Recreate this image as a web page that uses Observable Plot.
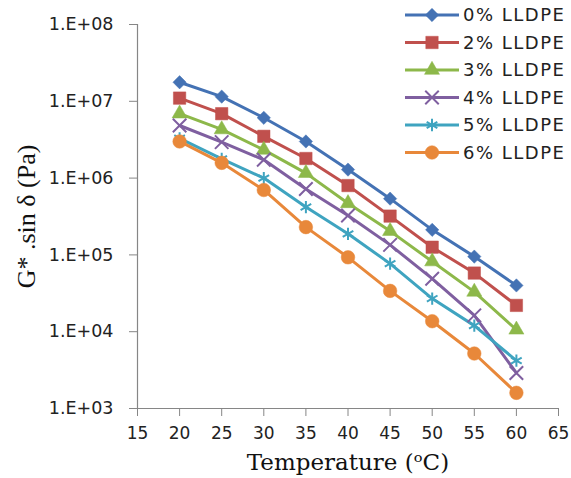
<!DOCTYPE html>
<html><head><meta charset="utf-8">
<script src="https://cdn.jsdelivr.net/npm/d3@7"></script>
<script src="https://cdn.jsdelivr.net/npm/@observablehq/plot@0.6"></script>
<style>
html,body{margin:0;padding:0;background:#fff;}
#wrap{position:relative;width:571px;height:478px;}
#legend{position:absolute;left:0;top:0;}
</style>
</head><body>
<div id="wrap"></div>
<script>
const temps = [20, 25, 30, 35, 40, 45, 50, 55, 60];
const seriesNames = ["0% LLDPE", "2% LLDPE", "3% LLDPE", "4% LLDPE", "5% LLDPE", "6% LLDPE"];
const s0 = [1.77e7, 1.15e7, 6.1e6, 3.0e6, 1.29e6, 5.4e5, 2.12e5, 9.5e4, 4.0e4];
const s2 = [1.1e7, 6.9e6, 3.5e6, 1.8e6, 8.0e5, 3.2e5, 1.26e5, 5.8e4, 2.2e4];
const s3 = [6.9e6, 4.3e6, 2.33e6, 1.16e6, 4.7e5, 2.04e5, 8.2e4, 3.3e4, 1.06e4];
const s4 = [4.84e6, 2.94e6, 1.73e6, 7.2e5, 3.26e5, 1.35e5, 4.9e4, 1.63e4, 2.9e3];
const s5 = [3.3e6, 1.78e6, 1.0e6, 4.2e5, 1.88e5, 7.7e4, 2.7e4, 1.2e4, 4.2e3];
const s6 = [3.0e6, 1.58e6, 7.0e5, 2.3e5, 9.3e4, 3.4e4, 1.37e4, 5.2e3, 1.6e3];
const xTicks = [15, 20, 25, 30, 35, 40, 45, 50, 55, 60, 65];
const yTicks = [1e3, 1e4, 1e5, 1e6, 1e7, 1e8];
const yTickLabels = ["1.E+03", "1.E+04", "1.E+05", "1.E+06", "1.E+07", "1.E+08"];
const xTitle = "Temperature (ᵒC)";
const yTitle = "G* .sin δ (Pa)";

const allValues = [s0, s2, s3, s4, s5, s6];
const colors = ["#4472B4", "#C0504D", "#8DB84A", "#7F5FA0", "#3FA4C0", "#E8883A"];
const symbols = ["diamond2", "square", "triangle", "times", "asterisk", "circle"];
const radii = [6, 7, 5.6, 6.2, 5.8, 6.8];
const filled = [true, true, true, false, false, true];

const data = seriesNames.map((name, k) => temps.map((t, i) => ({series: name, t, v: allValues[k][i]})));

const axisGray = "#868686";
const marks = [];
data.forEach((d, k) => {
  marks.push(Plot.line(d, {x: "t", y: "v", stroke: colors[k], strokeWidth: 3}));
});
data.forEach((d, k) => {
  marks.push(Plot.dot(d, {x: "t", y: "v", symbol: () => symbols[k], r: radii[k],
    fill: filled[k] ? colors[k] : "none", stroke: colors[k], strokeWidth: filled[k] ? 0.5 : 2}));
});

const chart = Plot.plot({
  width: 571, height: 478,
  marginLeft: 137, marginRight: 13, marginTop: 24, marginBottom: 70,
  style: {fontFamily: "DejaVu Sans", fontSize: "17px", color: "#222", background: "#fff"},
  x: {domain: [15, 65]},
  y: {type: "log", domain: [1e3, 1e8]},
  symbol: {type: "identity"},
  marks: [
    Plot.ruleX([15], {stroke: axisGray, strokeWidth: 1.2}),
    Plot.ruleY([1e3], {stroke: axisGray, strokeWidth: 1.2}),
    Plot.axisY({ticks: yTicks, tickFormat: d => yTickLabels[yTicks.indexOf(d)], tickSize: 8, tickPadding: 16,
      stroke: axisGray, fill: "#222", label: null, fontSize: 17.5, letterSpacing: 1}),
    Plot.axisX({ticks: xTicks, tickFormat: d => String(d), tickSize: 8, tickPadding: 10,
      stroke: axisGray, fill: "#222", label: null, fontSize: 17, letterSpacing: 1}),
    Plot.text([yTitle], {frameAnchor: "left", textAnchor: "middle", dx: -111, rotate: -90,
      fontFamily: "Liberation Serif", fontSize: 26, fill: "#111"}),
    Plot.text([xTitle], {frameAnchor: "bottom", textAnchor: "middle", dy: 61,
      fontFamily: "DejaVu Serif", fontSize: 23, fill: "#111"}),
    ...marks
  ]
});

const wrap = document.getElementById("wrap");
wrap.appendChild(chart);

// Legend overlay
const leg = d3.select(wrap).append("svg").attr("id", "legend").attr("width", 571).attr("height", 180);
const rowY = [15, 42.5, 70, 97.5, 125, 152.5];
const symMap = {diamond2: d3.symbolDiamond2, square: d3.symbolSquare, triangle: d3.symbolTriangle,
  times: d3.symbolTimes, asterisk: d3.symbolAsterisk, circle: d3.symbolCircle};
seriesNames.forEach((name, k) => {
  const g = leg.append("g").attr("transform", `translate(0,${rowY[k]})`);
  g.append("line").attr("x1", 405).attr("x2", 459).attr("y1", 0).attr("y2", 0)
    .attr("stroke", colors[k]).attr("stroke-width", 3);
  g.append("path").attr("transform", "translate(432,0)")
    .attr("d", d3.symbol(symMap[symbols[k]], Math.PI * radii[k] * radii[k])())
    .attr("fill", filled[k] ? colors[k] : "none").attr("stroke", colors[k]).attr("stroke-width", filled[k] ? 0.5 : 2);
  g.append("text").attr("x", 463).attr("y", 0).attr("dy", "0.35em")
    .attr("font-family", "DejaVu Sans").attr("font-size", 18).attr("letter-spacing", 1.5)
    .attr("fill", "#222").text(name);
});
</script>
</body></html>
